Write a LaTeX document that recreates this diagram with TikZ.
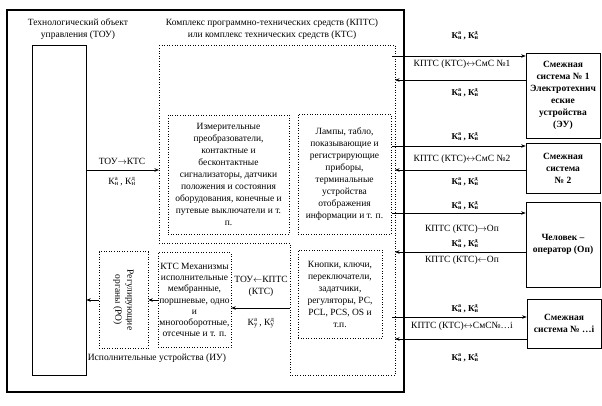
\documentclass[tikz,border=0pt]{standalone}
\usepackage{fontspec}
\setmainfont{Liberation Serif}
\usetikzlibrary{arrows.meta,positioning,calc}

\newcommand{\Kan}{К\rlap{\textsuperscript{а}}\textsubscript{н}\,, К\rlap{\textsuperscript{д}}\textsubscript{н}}
\newcommand{\Kay}{К\rlap{\textsuperscript{а}}\textsubscript{у}\,, К\rlap{\textsuperscript{д}}\textsubscript{у}}

\begin{document}
\begin{tikzpicture}[x=1pt, y=-1pt,
    lbl/.style={font=\fontsize{9.5}{12}\selectfont, align=center, inner sep=0pt},
    klbl/.style={font=\bfseries\fontsize{9}{11}\selectfont, inner sep=0pt},
    solidbox/.style={
        rectangle, draw, line width=0.6pt, inner sep=0pt
    },
    dotbox/.style={
        rectangle, draw, dotted, line width=0.6pt, inner sep=1pt,
        align=center, font=\fontsize{9.5}{12}\selectfont
    },
    sysbox/.style={
        rectangle, draw, line width=0.7pt, minimum width=74pt, inner sep=1pt,
        align=center, font=\bfseries\fontsize{9.5}{12}\selectfont
    },
    sig/.style={-{Stealth[length=4.5pt,width=3.5pt]}, line width=0.6pt},
    frame/.style={line width=2.2pt}
]
\useasboundingbox (0,0) rectangle (602,406);

% рамка
\draw[frame] (7,10) rectangle (404,392);

% заголовки
\node[lbl] (toutitle) at (78,29) {Технологический объект\\управления (ТОУ)};
\node[lbl] (ktstitle) at (272,29) {Комплекс программно-технических средств (КПТС)\\или комплекс технических средств (КТС)};

% ТОУ
\node[solidbox, minimum width=54pt, minimum height=330pt] (tou) at (59,210) {};

% КТС (контур)
\draw[dotted, line width=0.6pt] (159,45) -- (395,45) -- (395,375) -- (290,375)
    -- (290,243) -- (159,243) -- cycle;

\node[dotbox, minimum width=121pt, minimum height=119pt] (meas) at (228.5,174.5)
    {Измерительные\\преобразователи,\\контактные и\\бесконтактные\\сигнализаторы, датчики\\положения и состояния\\оборудования, конечные и\\путевые выключатели и т.\\п.};
\node[dotbox, minimum width=93pt, minimum height=120pt] (lamp) at (344.5,174)
    {Лампы, табло,\\показывающие и\\регистрирующие\\приборы,\\терминальные\\устройства\\отображения\\информации и т. п.};
\node[dotbox, minimum width=84pt, minimum height=88pt] (btn) at (340,294)
    {Кнопки, ключи,\\переключатели,\\задатчики,\\регуляторы, PC,\\PCL, PCS, OS и\\т.п.};

% ИУ
\node[dotbox, minimum width=73pt, minimum height=95pt, font=\fontsize{9.5}{11.3}\selectfont] (mech) at (194.5,300)
    {КТС Механизмы\\исполнительные\\мембранные,\\поршневые, одно\\и\\многооборотные,\\отсечные и т. п.};
\node[dotbox, minimum width=49pt, minimum height=97pt] (ro) at (123.5,300) {};
\node[lbl, rotate=-90] (rotxt) at (ro.center) {Регулирующие\\органы (РО)};
\node[lbl] (iutitle) at (157,358) {Исполнительные устройства (ИУ)};

% связи внутри
\coordinate (ktsW) at (159,170);
\draw[sig] (tou.east |- ktsW) -- (ktsW);
\node[lbl] (tk1) at (122,161) {ТОУ$\rightarrow$КТС};
\node[lbl] (tk2) at (122,182) {\Kan};

\coordinate (lowW) at (290,308);
\draw[sig] (lowW) -- (mech.east |- lowW);
\node[lbl] (kt1) at (261,286) {ТОУ$\leftarrow$КПТС\\(КТС)};
\node[lbl] (kt2) at (261,323) {\Kay};

\draw[sig] (mech.west) -- (ro.east);
\draw[sig] (ro.west) -- (tou.east |- ro.west);

% смежные системы
\node[sysbox, minimum height=85pt] (sys1) at (563,95.5)
    {Смежная\\система № 1\\Электротехнич\\еские\\устройства\\(ЭУ)};
\node[sysbox, minimum height=50pt] (sys2) at (563,168)
    {Смежная\\система\\№ 2};
\node[sysbox, minimum height=85pt] (oper) at (563,244.5)
    {Человек –\\оператор (Оп)};
\node[sysbox, minimum height=49pt] (sysi) at (564,323.5)
    {Смежная\\система № …i};

% связи справа
\coordinate (o1) at (392,56);  \coordinate (i1) at (395,80);
\coordinate (o2) at (392,146); \coordinate (i2) at (395,170);
\coordinate (o3) at (392,213); \coordinate (i3) at (395,252);
\coordinate (o4) at (392,317); \coordinate (i4) at (395,339);

\draw[sig] (o1) -- (sys1.west |- o1);
\draw[sig] (sys1.west |- i1) -- (i1);
\draw[sig] (o2) -- (sys2.west |- o2);
\draw[sig] (sys2.west |- i2) -- (i2);
\draw[sig] (o3) -- (oper.west |- o3);
\draw[sig] (oper.west |- i3) -- (i3);
\draw[sig] (o4) -- (sysi.west |- o4);
\draw[sig] (sysi.west |- i4) -- (i4);

\node[klbl] (k1a) at (465,36) {\Kan};
\node[lbl] (c1) at (462,64) {КПТС (КТС)$\leftrightarrow$СмС №1};
\node[klbl] (k1b) at (465,93) {\Kan};
\node[klbl] (k2a) at (465,137) {\Kan};
\node[lbl] (c2) at (462,159) {КПТС (КТС)$\leftrightarrow$СмС №2};
\node[klbl] (k2b) at (465,182) {\Kan};
\node[klbl] (k3a) at (465,206) {\Kan};
\node[lbl] (c3) at (462,229) {КПТС (КТС)$\rightarrow$Оп};
\node[klbl] (k3b) at (465,244) {\Kan};
\node[lbl] (c3b) at (462,260) {КПТС (КТС)$\leftarrow$Оп};
\node[klbl] (k4a) at (465,309) {\Kan};
\node[lbl] (c4) at (462,326) {КПТС (КТС)$\leftrightarrow$СмС№…i};
\node[klbl] (k4b) at (465,358) {\Kan};

\end{tikzpicture}
\end{document}
